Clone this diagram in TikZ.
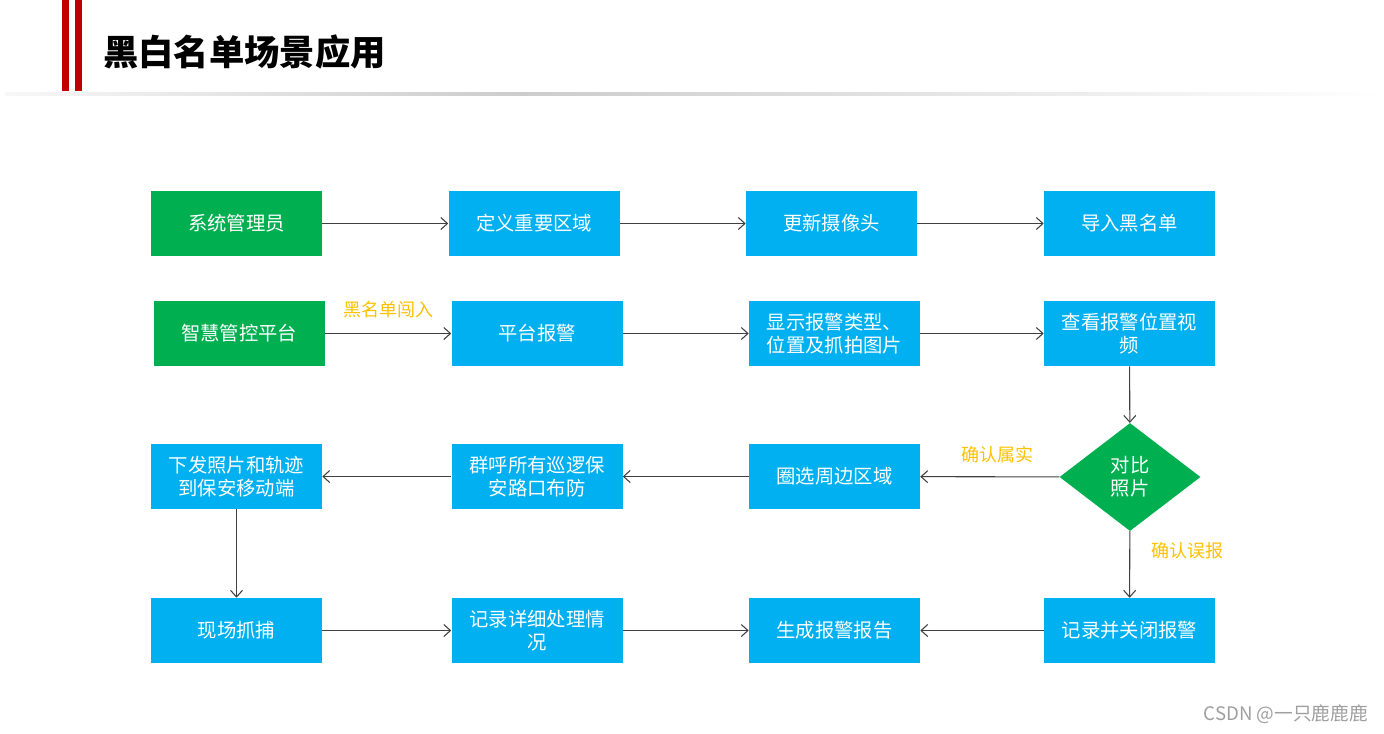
\documentclass[tikz,border=0pt]{standalone}
\usepackage{fontspec}
\newfontfamily\cjk{Noto Sans CJK SC}
\usepackage{xcolor}
\definecolor{boxgreen}{HTML}{00B050}
\definecolor{boxblue}{HTML}{00B0F0}
\definecolor{labelgold}{HTML}{FFC000}
\definecolor{barred}{HTML}{C00000}
\definecolor{linegray}{HTML}{404040}
\usepackage{tikz}
\usetikzlibrary{arrows.meta, shapes.geometric, positioning}

\begin{document}
\begin{tikzpicture}[x=0.75pt, y=-0.75pt,
  flow/.style={draw=linegray, line width=0.8pt, -{Straight Barb[length=5pt, width=9pt]}},
  stepbox/.style={minimum width=128.25pt, minimum height=48.75pt, inner sep=2pt,
                  align=center, text=white, font=\cjk\fontsize{14.5}{17.5}\selectfont},
  greenbox/.style={stepbox, fill=boxgreen},
  bluebox/.style={stepbox, fill=boxblue},
  check/.style={diamond, fill=boxgreen, minimum width=105.75pt, minimum height=81pt,
                inner sep=0pt, align=center, text=white, font=\cjk\fontsize{14.5}{17.5}\selectfont},
  lbl/.style={text=labelgold, font=\cjk\fontsize{13.5}{16}\selectfont, inner sep=1pt}]

  \useasboundingbox (0,0) rectangle (1384,733);

  % header
  \fill[barred] (62,0) rectangle (69,91);
  \fill[barred] (75,0) rectangle (82,91);
  \shade[left color=gray!6, right color=gray!40] (5,92) rectangle (520,95);
  \shade[left color=gray!40, right color=white] (520,92) rectangle (1384,95);
  \node[anchor=west, inner sep=0pt, font=\cjk\bfseries\fontsize{26.5}{31}\selectfont] (title)
    at (103,52) {黑白名单场景应用};

  % row 1
  \node[greenbox] (admin)   at (236.5,223.5) {系统管理员};
  \node[bluebox]  (area)    at (534,223.5)   {定义重要区域};
  \node[bluebox]  (camera)  at (831.5,223.5) {更新摄像头};
  \node[bluebox]  (import)  at (1129.5,223.5) {导入黑名单};

  % row 2
  \node[greenbox] (platform) at (239,333.5)  {智慧管控平台};
  \node[bluebox]  (alarm)    at (537,333.5)  {平台报警};
  \node[bluebox]  (show)     at (834.5,333.5) {显示报警类型、\\位置及抓拍图片};
  \node[bluebox]  (video)    at (1129.5,333.5) {查看报警位置视\\频};

  % row 3
  \node[check]   (compare)  at (1130,477)    {对比\\照片};
  \node[bluebox] (select)   at (834.5,476.5) {圈选周边区域};
  \node[bluebox] (call)     at (537,476.5)   {群呼所有巡逻保\\安路口布防};
  \node[bluebox] (send)     at (236.5,476.5) {下发照片和轨迹\\到保安移动端};

  % row 4
  \node[bluebox] (catch)    at (236.5,630.5) {现场抓捕};
  \node[bluebox] (record)   at (537,630.5)   {记录详细处理情\\况};
  \node[bluebox] (report)   at (834.5,630.5) {生成报警报告};
  \node[bluebox] (close)    at (1129.5,630.5) {记录并关闭报警};

  % connectors
  \draw[flow] (admin) -- (area);
  \draw[flow] (area) -- (camera);
  \draw[flow] (camera) -- (import);

  \draw[flow] (platform) -- node[lbl, above=10pt] {黑名单闯入} (alarm);
  \draw[flow] (alarm) -- (show);
  \draw[flow] (show) -- (video);
  \draw[flow] (video) -- (compare);

  \draw[flow] (compare) -- node[lbl, above=9pt, xshift=6pt] {确认属实} (select);
  \draw[flow] (compare) -- node[lbl, right=15pt, pos=0.3] {确认误报} (close);
  \draw[flow] (select) -- (call);
  \draw[flow] (call) -- (send);
  \draw[flow] (send) -- (catch);

  \draw[flow] (catch) -- (record);
  \draw[flow] (record) -- (report);
  \draw[flow] (close) -- (report);

  % watermark
  \node[anchor=east, text=gray!75, inner sep=0pt, font=\cjk\fontsize{14}{17}\selectfont] (mark)
    at (1368,714) {CSDN @一只鹿鹿鹿};
\end{tikzpicture}
\end{document}
